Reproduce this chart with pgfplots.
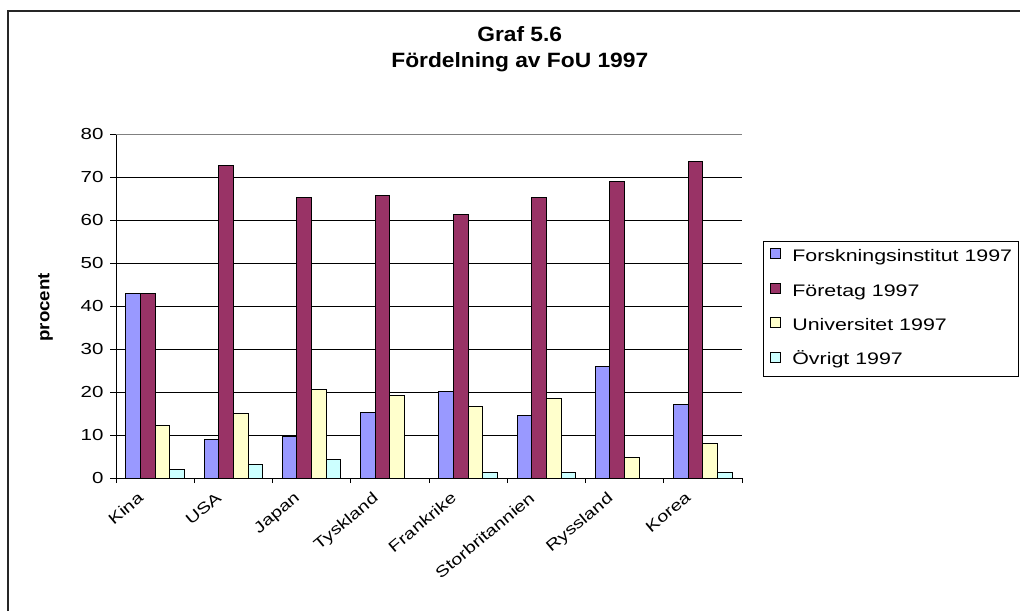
\documentclass[border=0pt]{standalone}
\usepackage{fontspec}
\setmainfont[FakeStretch=1.28, BoldFeatures={FakeStretch=1.1}]{Liberation Sans}
\usepackage{pgfplots}
\pgfplotsset{compat=1.18}
\definecolor{cBlue}{HTML}{9999FF}
\definecolor{cMaroon}{HTML}{993366}
\definecolor{cYellow}{HTML}{FFFFCC}
\definecolor{cCyan}{HTML}{CCFFFF}
\begin{document}
\begin{tikzpicture}
\path[use as bounding box] (0,0) rectangle (1020pt,-611pt);
\fill[white] (0,0) rectangle (1020pt,-611pt);
\draw[line width=1.3pt, black!85] (8pt,-611pt) -- (8pt,-11pt) -- (1020pt,-11pt);
\begin{axis}[
  at={(116pt,-478pt)}, anchor=south west,
  scale only axis, width=626pt, height=344pt,
  xmin=-0.5, xmax=7.5, ymin=0, ymax=80,
  ytick={0,10,...,80},
  xtick={0,...,7},
  xticklabels={Kina,USA,Japan,Tyskland,Frankrike,Storbritannien,Ryssland,Korea},
  minor xtick={-0.5,0.5,...,7.5},
  ybar=0pt, bar width=0.187,
  axis x line*=bottom, axis y line*=left,
  axis line style={-, black, line width=0.8pt},
  ymajorgrids, grid style={black, line width=0.6pt},
  tick align=outside,
  major tick length=6pt, minor tick length=5pt,
  major x tick style={draw=none},
  tick style={black, line width=0.8pt},
  /pgf/number format/assume math mode=true,
  yticklabel style={font=\fontsize{16}{19}\selectfont, xshift=-3pt},
  xticklabel style={font=\fontsize{15.5}{18}\selectfont, xshift=-18pt, yshift=-7pt, rotate=40, anchor=north east, inner sep=0pt},
  title={Graf 5.6\\Fördelning av FoU 1997},
  title style={at={(axis description cs:0.645,1.297)}, anchor=north, align=center, font=\bfseries\fontsize{20.7}{26}\selectfont, inner sep=0pt},
  ylabel={procent},
  ylabel style={at={(axis description cs:-0.1126,0.496)}, anchor=center, font=\bfseries\fontsize{17}{20}\selectfont},
  every axis plot/.append style={draw=black, line width=1pt},
  legend cell align=left,
  legend image code/.code={\draw[#1, draw=black, line width=0.8pt] (1pt,-1pt) rectangle (11pt,9pt); \path[draw=none, fill=none] (0pt,0pt) -- (23pt,0pt);},
  legend style={at={(1.0335,0.689)}, anchor=north west, draw=black, line width=0.8pt,
    font=\fontsize{16.7}{20}\selectfont, inner xsep=6pt, inner ysep=7pt, row sep=17pt,
    nodes={inner sep=0pt, text height=12pt, text depth=4pt}},
]
\addplot[fill=cBlue] coordinates {(0,43.0) (1,8.9) (2,9.7) (3,15.3) (4,20.2) (5,14.6) (6,25.9) (7,17.1)};
\addplot[fill=cMaroon] coordinates {(0,43.0) (1,72.7) (2,65.3) (3,65.7) (4,61.2) (5,65.3) (6,69.0) (7,73.5)};
\addplot[fill=cYellow] coordinates {(0,12.2) (1,15.0) (2,20.7) (3,19.1) (4,16.7) (5,18.6) (6,4.8) (7,8.1)};
\addplot[fill=cCyan] coordinates {(0,1.9) (1,3.2) (2,4.4) (4,1.2) (5,1.2) (7,1.2)};
\legend{Forskningsinstitut 1997, Företag 1997, Universitet 1997, Övrigt 1997}
\draw[gray, line width=0.8pt] (rel axis cs:0,1) -- (rel axis cs:1,1) -- (rel axis cs:1,0);
\end{axis}
\end{tikzpicture}
\end{document}
